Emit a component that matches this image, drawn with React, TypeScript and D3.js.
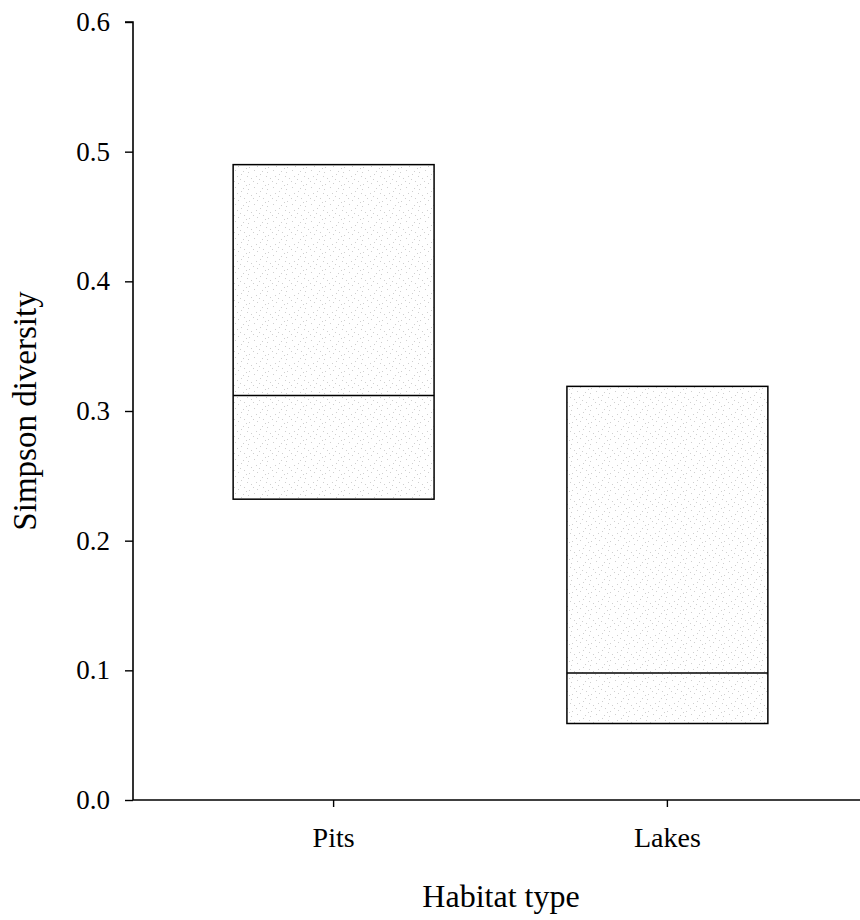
import React, { useEffect, useRef } from 'react';
import * as d3 from 'd3';

// Box values (quartiles + median)
const categories = ['Pits', 'Lakes'];
const q1Values = [0.232, 0.059];
const medianValues = [0.312, 0.098];
const q3Values = [0.49, 0.319];
const yTicks = [0.0, 0.1, 0.2, 0.3, 0.4, 0.5, 0.6];

const App: React.FC = () => {
  const ref = useRef<SVGSVGElement>(null);

  useEffect(() => {
    if (!ref.current) return;
    const W = 860;
    const H = 920;
    const left = 133;
    const right = 860;
    const top = 22;
    const bottom = 800;
    const font = 'Liberation Serif, Times New Roman, serif';

    const svg = d3.select(ref.current);
    svg.selectAll('*').remove();
    svg.attr('width', W).attr('height', H);

    // stipple texture
    const defs = svg.append('defs');
    const pat = defs.append('pattern')
      .attr('id', 'stipple')
      .attr('patternUnits', 'userSpaceOnUse')
      .attr('width', 19)
      .attr('height', 17);
    pat.append('rect').attr('width', 19).attr('height', 17).attr('fill', '#ffffff');
    const dots = [[1, 2], [7, 0], [13, 4], [4, 8], [16, 11], [10, 13], [2, 14], [9, 6], [15, 1], [6, 11], [12, 9], [18, 15], [0, 6]];
    dots.forEach(([x, y]) => {
      pat.append('rect').attr('x', x).attr('y', y).attr('width', 1).attr('height', 1).attr('fill', '#d0d0d0');
    });

    const y = d3.scaleLinear().domain([0, 0.6]).range([bottom, top]);
    // band layout: boxes 233-434 and 567-768
    const x = d3.scaleBand().domain(categories).range([left, 868]).paddingInner(0.398).paddingOuter(0.3);

    // boxes
    const g = svg.append('g');
    categories.forEach((c, i) => {
      const x0 = x(c)!;
      const bw = x.bandwidth();
      g.append('rect')
        .attr('x', x0)
        .attr('y', y(q3Values[i]))
        .attr('width', bw)
        .attr('height', y(q1Values[i]) - y(q3Values[i]))
        .attr('fill', 'url(#stipple)')
        .attr('stroke', '#000')
        .attr('stroke-width', 1.5);
      g.append('line')
        .attr('x1', x0)
        .attr('x2', x0 + bw)
        .attr('y1', y(medianValues[i]))
        .attr('y2', y(medianValues[i]))
        .attr('stroke', '#000')
        .attr('stroke-width', 1.4);
    });

    // y axis
    const ya = svg.append('g')
      .attr('transform', `translate(${left},0)`)
      .call(d3.axisLeft(y).tickValues(yTicks).tickSize(8).tickPadding(15).tickFormat(d3.format('.1f')));
    ya.select('.domain').attr('stroke-width', 1.6).attr('d', `M-8,${top}H0V${bottom}`);
    ya.selectAll('line').attr('stroke-width', 1.4);
    ya.selectAll('text').style('font-family', font).style('font-size', '27px').attr('fill', '#000');

    // x axis
    const xa = svg.append('g')
      .attr('transform', `translate(0,${bottom})`)
      .call(d3.axisBottom(x).tickSize(7).tickPadding(20).tickSizeOuter(0));
    xa.select('.domain').attr('stroke-width', 1.6).attr('d', `M${left},0H${right}`);
    xa.selectAll('line').attr('stroke-width', 1.4);
    xa.selectAll('text').style('font-family', font).style('font-size', '28px').attr('fill', '#000');

    // titles
    svg.append('text')
      .attr('x', 501)
      .attr('y', 907)
      .attr('text-anchor', 'middle')
      .style('font-family', font)
      .style('font-size', '32px')
      .text('Habitat type');

    svg.append('text')
      .attr('transform', `translate(36,411) rotate(-90)`)
      .attr('text-anchor', 'middle')
      .style('font-family', font)
      .style('font-size', '33px')
      .text('Simpson diversity');
  }, []);

  return <svg ref={ref} style={{ position: 'absolute', left: 0, top: 0 }} />;
};

export default App;
